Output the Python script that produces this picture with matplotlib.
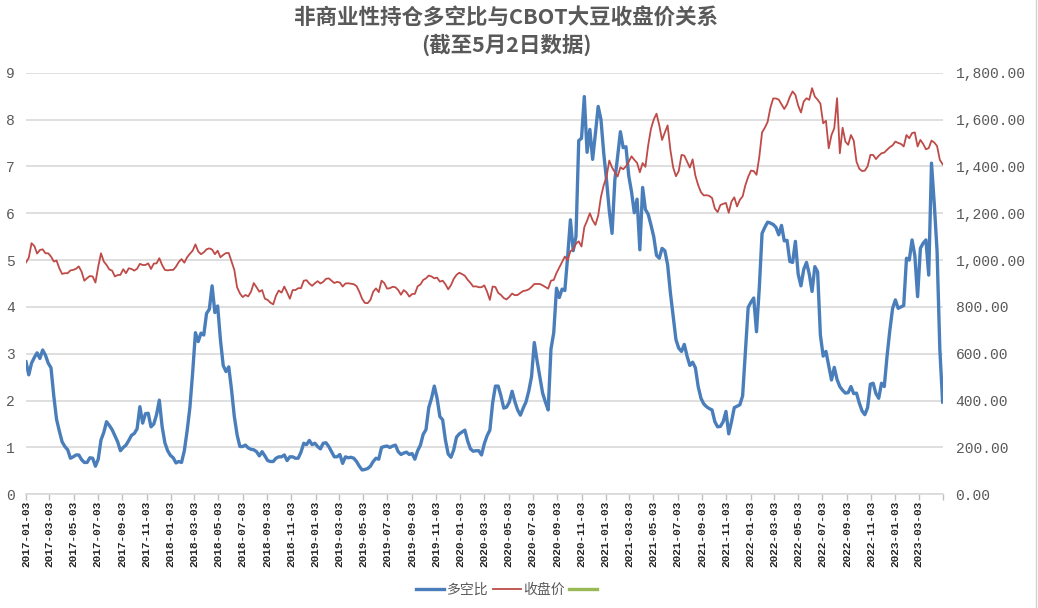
import matplotlib
matplotlib.use("Agg")
import matplotlib.pyplot as plt
import matplotlib.dates as mdates
from matplotlib.lines import Line2D
from matplotlib.ticker import FuncFormatter
import numpy as np
import pandas as pd

plt.rcParams['font.family'] = ['Noto Sans CJK SC', 'DejaVu Sans']

# weekly data, 2017-01-03 .. 2023-05-02
ratio = [
    2.83, 2.55, 2.80, 2.92, 3.02, 2.90, 3.08, 2.97, 2.80, 2.70,
    2.10, 1.60, 1.35, 1.12, 1.02, 0.95, 0.77, 0.80, 0.84, 0.84,
    0.74, 0.68, 0.68, 0.78, 0.77, 0.60, 0.75, 1.16, 1.32, 1.55,
    1.47, 1.38, 1.25, 1.12, 0.93, 1.00, 1.05, 1.15, 1.26, 1.30,
    1.40, 1.87, 1.52, 1.72, 1.73, 1.44, 1.50, 1.70, 2.01, 1.45,
    1.10, 0.93, 0.83, 0.78, 0.67, 0.70, 0.68, 0.93, 1.35, 1.85,
    2.60, 3.45, 3.26, 3.44, 3.40, 3.86, 3.95, 4.45, 3.88, 4.02,
    3.30, 2.75, 2.62, 2.72, 2.23, 1.66, 1.27, 1.02, 1.02, 1.05,
    0.99, 0.96, 0.95, 0.91, 0.82, 0.91, 0.82, 0.72, 0.70, 0.70,
    0.77, 0.80, 0.80, 0.84, 0.72, 0.80, 0.80, 0.77, 0.77, 0.90,
    1.09, 1.06, 1.15, 1.06, 1.09, 1.02, 0.97, 1.09, 1.10, 1.02,
    0.91, 0.80, 0.80, 0.85, 0.66, 0.80, 0.78, 0.79, 0.77, 0.70,
    0.60, 0.52, 0.53, 0.55, 0.60, 0.70, 0.77, 0.75, 1.00, 1.02,
    1.03, 1.00, 1.03, 1.05, 0.91, 0.85, 0.88, 0.90, 0.85, 0.87,
    0.75, 0.93, 1.05, 1.28, 1.38, 1.85, 2.05, 2.31, 2.05, 1.66,
    1.59, 1.16, 0.86, 0.79, 0.95, 1.22, 1.29, 1.33, 1.37, 1.14,
    0.97, 0.92, 0.93, 0.93, 0.84, 1.08, 1.25, 1.37, 1.95, 2.31,
    2.31, 2.10, 1.84, 1.86, 1.97, 2.20, 1.98, 1.80, 1.69, 1.84,
    1.97, 2.20, 2.51, 3.24, 2.85, 2.51, 2.16, 1.97, 1.80, 3.10,
    3.45, 4.40, 4.20, 4.38, 4.35, 5.07, 5.86, 5.20, 5.50, 7.55,
    7.60, 8.49, 7.30, 7.79, 7.15, 7.70, 8.28, 8.00, 7.28, 6.71,
    6.05, 5.57, 6.71, 7.21, 7.74, 7.40, 7.42, 6.80, 6.46, 6.01,
    6.30, 5.22, 6.55, 6.08, 5.98, 5.75, 5.50, 5.10, 5.04, 5.25,
    5.20, 4.90, 4.30, 3.80, 3.30, 3.12, 3.05, 3.20, 2.95, 2.75,
    2.82, 2.70, 2.30, 2.05, 1.93, 1.87, 1.83, 1.80, 1.55, 1.44,
    1.45, 1.55, 1.77, 1.29, 1.55, 1.85, 1.88, 1.91, 2.10, 3.05,
    3.99, 4.10, 4.19, 3.47, 4.40, 5.57, 5.70, 5.81, 5.79, 5.76,
    5.70, 5.54, 5.74, 5.41, 5.42, 4.97, 4.95, 5.40, 4.70, 4.45,
    4.80, 4.95, 4.70, 4.33, 4.86, 4.75, 3.40, 2.95, 3.05, 2.74,
    2.44, 2.71, 2.45, 2.30, 2.22, 2.16, 2.17, 2.30, 2.15, 2.16,
    1.95, 1.78, 1.70, 1.85, 2.35, 2.37, 2.15, 2.05, 2.37, 2.30,
    2.95, 3.50, 3.97, 4.15, 3.97, 4.00, 4.03, 5.04, 5.00, 5.43,
    5.10, 4.22, 5.25, 5.36, 5.43, 4.68, 7.07, 6.20, 5.20, 3.10,
    1.97,
]

close = [
    990, 1010, 1072, 1060, 1028, 1043, 1046, 1029, 1029, 1015,
    994, 998, 965, 941, 944, 944, 956, 958, 963, 973,
    951, 912, 923, 932, 930, 904, 972, 1029, 994, 979,
    960, 955, 930, 936, 937, 961, 944, 965, 962, 955,
    963, 984, 979, 979, 986, 962, 985, 986, 1008, 979,
    958, 956, 958, 958, 972, 992, 1004, 989, 1012, 1027,
    1040, 1067, 1037, 1025, 1033, 1046, 1050, 1045, 1025, 1040,
    1012, 1022, 1030, 1030, 994, 958, 884, 858, 842, 851,
    845, 865, 902, 884, 865, 872, 835, 830, 818, 811,
    848, 870, 861, 887, 862, 835, 872, 872, 880, 880,
    912, 914, 900, 890, 901, 910, 900, 907, 920, 922,
    912, 902, 907, 904, 887, 900, 901, 899, 897, 889,
    865, 835, 817, 816, 830, 865, 879, 863, 912, 902,
    878, 880, 886, 884, 872, 852, 872, 862, 844, 855,
    856, 888, 896, 915, 922, 934, 930, 922, 925, 908,
    912, 897, 875, 893, 920, 937, 946, 940, 933, 916,
    903, 887, 888, 884, 884, 892, 865, 830, 887, 885,
    860, 851, 838, 832, 843, 857, 850, 851, 860, 868,
    870, 875, 885, 898, 898, 898, 892, 885, 878, 912,
    915, 945, 968, 990, 1015, 1000, 1038, 1045, 1070, 1080,
    1058, 1140, 1168, 1200, 1170, 1150, 1190, 1270, 1320, 1355,
    1425, 1395, 1375, 1357, 1396, 1388, 1400, 1420, 1443, 1428,
    1415, 1375, 1414, 1398, 1490, 1560, 1600, 1625, 1575, 1513,
    1545, 1575, 1470, 1395, 1358, 1380, 1449, 1446, 1420, 1395,
    1430, 1360, 1320, 1290, 1276, 1277, 1274, 1265, 1220, 1205,
    1235, 1240, 1244, 1202, 1250, 1268, 1229, 1257, 1272, 1320,
    1355, 1382, 1380, 1364, 1440, 1545, 1565, 1590, 1650, 1690,
    1690, 1685, 1665, 1645, 1665, 1697, 1720, 1705, 1660, 1630,
    1677, 1691, 1684, 1734, 1698, 1685, 1668, 1584, 1595, 1477,
    1534, 1563, 1691, 1456, 1565, 1506, 1492, 1534, 1510, 1420,
    1390, 1380, 1382, 1400, 1449, 1449, 1431, 1445, 1456, 1459,
    1471, 1482, 1490, 1506, 1500, 1496, 1485, 1534, 1520, 1542,
    1545, 1485, 1513, 1496, 1473, 1478, 1510, 1502, 1487, 1428,
    1409,
]

dates = pd.date_range('2017-01-03', periods=len(ratio), freq='7D')
tick_dates = [pd.Timestamp('2017-01-03') + pd.DateOffset(months=2 * k) for k in range(39)]
tick_labels = [d.strftime('%Y-%m-%d') for d in tick_dates[:-1]] + ['']

blue = '#4A7EBB'
red = '#BE4B48'
green = '#98B954'
grid_c = '#D9D9D9'
txt_c = '#595959'

fig = plt.figure(figsize=(10.38, 6.08), dpi=100)
ax = fig.add_axes([26 / 1038, 1 - 494.3 / 608, 917 / 1038, (494.3 - 72.7) / 608])
ax2 = ax.twinx()

ax.plot(dates, ratio, color=blue, lw=2.4, solid_joinstyle='round', zorder=3)
ax2.plot(dates, close, color=red, lw=1.3, zorder=2)

ax.set_ylim(0, 9)
ax.set_yticks(range(0, 10))
ax2.set_ylim(0, 1800)
ax2.set_yticks(range(0, 1801, 200))
ax2.yaxis.set_major_formatter(FuncFormatter(lambda v, p: f'{v:,.2f}'))

ax.set_xlim(tick_dates[0], tick_dates[-1])
ax.set_xticks(tick_dates)
ax.set_xticklabels(tick_labels, rotation=90, family='Liberation Mono',
                   fontsize=8, fontweight='bold', color='#262626')

ax.grid(axis='y', color=grid_c, lw=1.2)
ax.set_axisbelow(True)
for a in (ax, ax2):
    for s in ('top', 'left', 'right'):
        a.spines[s].set_visible(False)
    a.spines['bottom'].set_color(grid_c)
    a.spines['bottom'].set_linewidth(1.2)
ax2.spines['bottom'].set_visible(False)

ax.tick_params(axis='x', length=4, width=1, color='#BFBFBF', pad=1)
ax.tick_params(axis='y', length=0, pad=8, labelsize=10.5, labelcolor=txt_c)
ax2.tick_params(axis='y', length=0, pad=9, labelsize=10.5, labelcolor=txt_c)
for lab in ax.get_yticklabels() + ax2.get_yticklabels():
    lab.set_family('Liberation Mono')

fig.text(0.488, 1 - 17 / 608, '非商业性持仓多空比与CBOT大豆收盘价关系', ha='center', va='center',
         fontsize=15.5, fontweight='bold', color=txt_c)
fig.text(0.488, 1 - 45 / 608, '(截至5月2日数据)', ha='center', va='center',
         fontsize=15.5, fontweight='bold', color=txt_c)

handles = [Line2D([], [], color=blue, lw=2.4),
           Line2D([], [], color=red, lw=1.3),
           Line2D([], [], color=green, lw=2.4)]
fig.legend(handles, ['多空比', '收盘价', ' '], loc='center', bbox_to_anchor=(0.491, 1 - 590 / 608),
           ncol=3, frameon=False, fontsize=10, handlelength=2.0, handletextpad=0.2,
           columnspacing=0.3, labelcolor=txt_c)

fig.add_artist(Line2D([1035.5 / 1038, 1035.5 / 1038], [0, 1], color='#D0D0D0', lw=1))

fig.savefig('out.png', dpi=100)
